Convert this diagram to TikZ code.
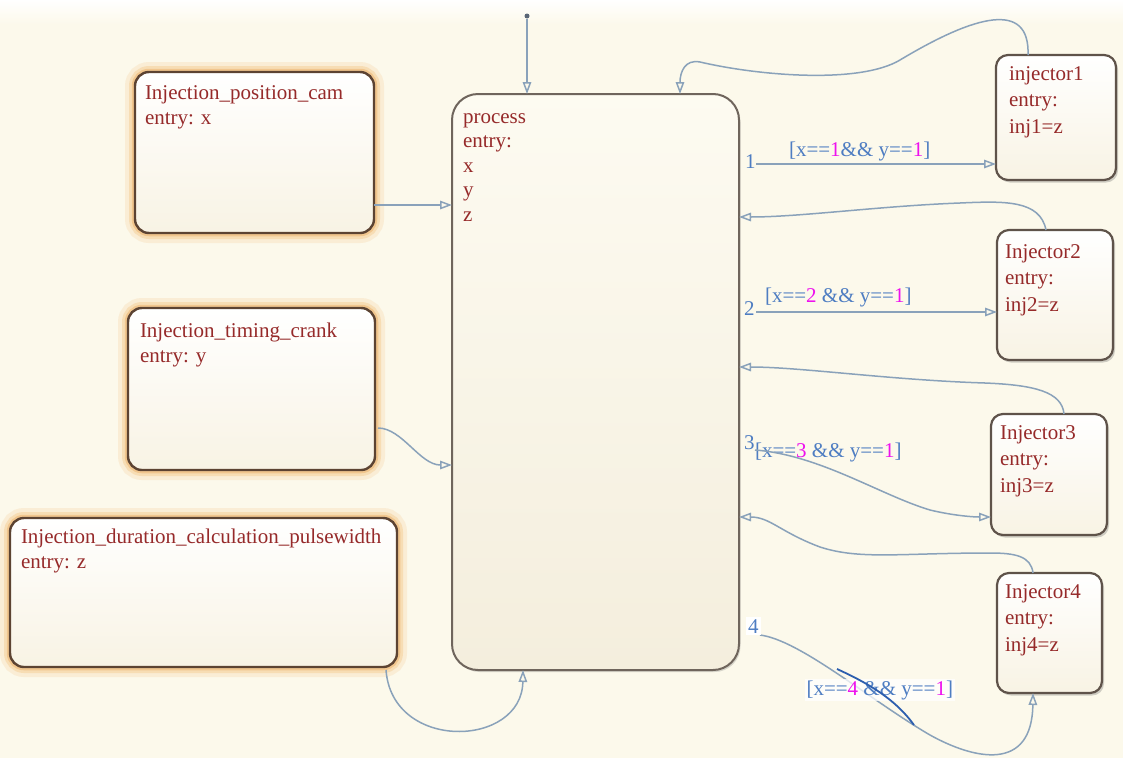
\documentclass[tikz,border=0pt]{standalone}
\usepackage{fontspec}
\setmainfont{Liberation Serif}
\usetikzlibrary{arrows.meta,shadows}
\definecolor{bgc}{HTML}{FCF9EB}
\definecolor{txtred}{HTML}{962A2A}
\definecolor{lblblue}{HTML}{4E7DC2}
\definecolor{mag}{HTML}{EE11EE}
\definecolor{conncol}{HTML}{8AA2BA}
\definecolor{leftborder}{HTML}{5C4332}
\definecolor{injborder}{HTML}{5F534A}
\definecolor{procborder}{HTML}{6F655C}
\definecolor{glowa}{HTML}{FAEDD5}
\definecolor{glowb}{HTML}{F7DDB4}
\definecolor{glowc}{HTML}{F1C68E}
\definecolor{boxcream}{HTML}{F8F3E4}
\definecolor{proccream}{HTML}{F4EEDD}
\definecolor{markblue}{HTML}{2C5EAE}
\definecolor{dotcol}{HTML}{5A6676}
\begin{document}
\begin{tikzpicture}[x=1pt,y=-1pt,
  every node/.style={inner sep=0pt, outer sep=0pt},
  leftbox/.style={draw=leftborder, line width=2.4pt, rounded corners=14pt,
    top color=white, bottom color=boxcream,
    preaction={draw=glowa, line width=20pt},
    preaction={draw=glowb, line width=12pt},
    preaction={draw=glowc, line width=6.5pt}},
  injbox/.style={draw=injborder, line width=2.2pt, rounded corners=12pt,
    top color=white, bottom color=boxcream,
    drop shadow={shadow xshift=2pt, shadow yshift=-2.5pt, opacity=0.3, fill=black!60}},
  procbox/.style={draw=procborder, line width=2pt, rounded corners=26pt,
    top color=bgc!70!white, bottom color=proccream,
    drop shadow={shadow xshift=1.5pt, shadow yshift=-2pt, opacity=0.25, fill=black!60}},
  txt/.style={anchor=north west, align=left, text=txtred, font=\fontsize{21}{24.5}\selectfont},
  injtxt/.style={anchor=north west, align=left, text=txtred, font=\fontsize{21}{26.5}\selectfont},
  lbl/.style={anchor=base west, text=lblblue, font=\fontsize{21}{24}\selectfont},
  conn/.style={draw=conncol, line width=1.5pt, -{Triangle[open, length=12pt, width=8.5pt]}},
  initdot/.style={circle, fill=dotcol, minimum size=5pt}
]
\useasboundingbox (0,0) rectangle (1123,758);
\fill[bgc] (0,0) rectangle (1123,758);
\shade[top color=white, bottom color=bgc] (0,0) rectangle (1123,24);

% boxes
\node[leftbox, minimum width=239pt, minimum height=161pt] (cam) at (254.5,152.5) {};
\node[leftbox, minimum width=247pt, minimum height=162pt] (crank) at (251.5,389) {};
\node[leftbox, minimum width=387pt, minimum height=149pt] (dur) at (203.5,592.5) {};
\node[procbox, minimum width=287pt, minimum height=576pt] (process) at (595.5,382) {};
\node[injbox, minimum width=120pt, minimum height=125pt] (inj1) at (1056,117.5) {};
\node[injbox, minimum width=116pt, minimum height=130pt] (inj2) at (1055,295) {};
\node[injbox, minimum width=116pt, minimum height=121pt] (inj3) at (1049,474.5) {};
\node[injbox, minimum width=105pt, minimum height=120pt] (inj4) at (1049.5,633) {};

% box texts
\node[txt] (camtxt) at (145,82.4) {\strut Injection\_position\_cam\\entry: x};
\node[txt] (cranktxt) at (140,320.4) {\strut Injection\_timing\_crank\\entry: y};
\node[txt] (durtxt) at (21,526.4) {\strut Injection\_duration\_calculation\_pulsewidth\\entry: z};
\node[txt] (proctxt) at (463,105.9) {\strut process\\entry:\\x\\y\\z};
\node[injtxt] (inj1txt) at (1009,61.5) {\strut injector1\\entry:\\inj1=z};
\node[injtxt] (inj2txt) at (1005,239.5) {\strut Injector2\\entry:\\inj2=z};
\node[injtxt] (inj3txt) at (1000,420.5) {\strut Injector3\\entry:\\inj3=z};
\node[injtxt] (inj4txt) at (1005,579.5) {\strut Injector4\\entry:\\inj4=z};

% transition labels
\node[lbl] (n1) at (745,168) {1};
\node[lbl] (c1) at (789,156) {[x==\textcolor{mag}{1}\&\& y==\textcolor{mag}{1}]};
\node[lbl] (n2) at (744,315) {2};
\node[lbl] (c2) at (765,302) {[x==\textcolor{mag}{2} \&\& y==\textcolor{mag}{1}]};
\node[lbl] (n3) at (744,449) {3};
\node[lbl] (c3) at (755,457) {[x==\textcolor{mag}{3} \&\& y==\textcolor{mag}{1}]};

% default transition
\node[initdot] (init) at (527,16) {};
\draw[conn] (init) -- ([xshift=-68.5pt]process.north);

% inputs into process
\draw[conn] ([yshift=-52.5pt]cam.east) -- ([yshift=-111pt]process.north west);
\draw[conn] ([xshift=3pt,yshift=-39pt]crank.east) .. controls (402,428) and (420,465) .. ([yshift=-371pt]process.north west);
\draw[conn] ([xshift=-11pt,yshift=-3pt]dur.south east) .. controls (392,752) and (522,748) .. ([xshift=71pt]process.south west);

% injectors back to process
\draw[conn] ([xshift=-28pt]inj1.north) .. controls (1030,0) and (975,15) .. (900,60)
  .. controls (860,84) and (760,76) .. (700,62)
  .. controls (685,59) and (680,72) .. ([xshift=-59pt]process.north east);
\draw[conn] ([xshift=-9pt]inj2.north) .. controls (1040,200) and (1005,201) .. (960,203)
  .. controls (880,206) and (800,217) .. ([yshift=-123pt]process.north east);
\draw[conn] ([xshift=15pt]inj3.north) .. controls (1062,392) and (1035,385) .. (985,383)
  .. controls (890,380) and (800,367) .. ([yshift=-273pt]process.north east);
\draw[conn] ([xshift=-16.5pt]inj4.north) .. controls (1031,556) and (1015,553) .. (990,553)
  .. controls (900,553) and (860,560) .. (820,547)
  .. controls (780,532) and (770,517) .. ([yshift=-423pt]process.north east);

% transitions process -> injectors
\draw[conn] ([xshift=17pt,yshift=-70pt]process.north east) -- ([yshift=16pt]inj1.south west);
\draw[conn] ([xshift=17pt,yshift=-218pt]process.north east) -- ([yshift=48pt]inj2.south west);
\draw[conn] ([xshift=16pt,yshift=-356pt]process.north east) .. controls (820,455) and (880,495) .. (930,510)
  .. controls (955,516) and (975,517) .. ([yshift=-42.5pt]inj3.west);
\draw[conn] ([xshift=21pt,yshift=35pt]process.south east) .. controls (800,640) and (870,700) .. (930,735)
  .. controls (975,760) and (1032,772) .. ([xshift=-16.5pt]inj4.south);

% label 4 and its guard
\node[lbl, fill=white, inner sep=2pt] (n4) at (746,633) {4};
\node[lbl, fill=white, fill opacity=0.75, text opacity=1, inner sep=1.5pt] (c4) at (805,695) {[x==\textcolor{mag}{4} \&\& y==\textcolor{mag}{1}]};

% highlighted stroke
\coordinate (m1) at (837,669);
\coordinate (m2) at (914,725);
\draw[markblue, line width=1.8pt] (m1) .. controls (870,684) and (896,700) .. (m2);
\end{tikzpicture}
\end{document}
